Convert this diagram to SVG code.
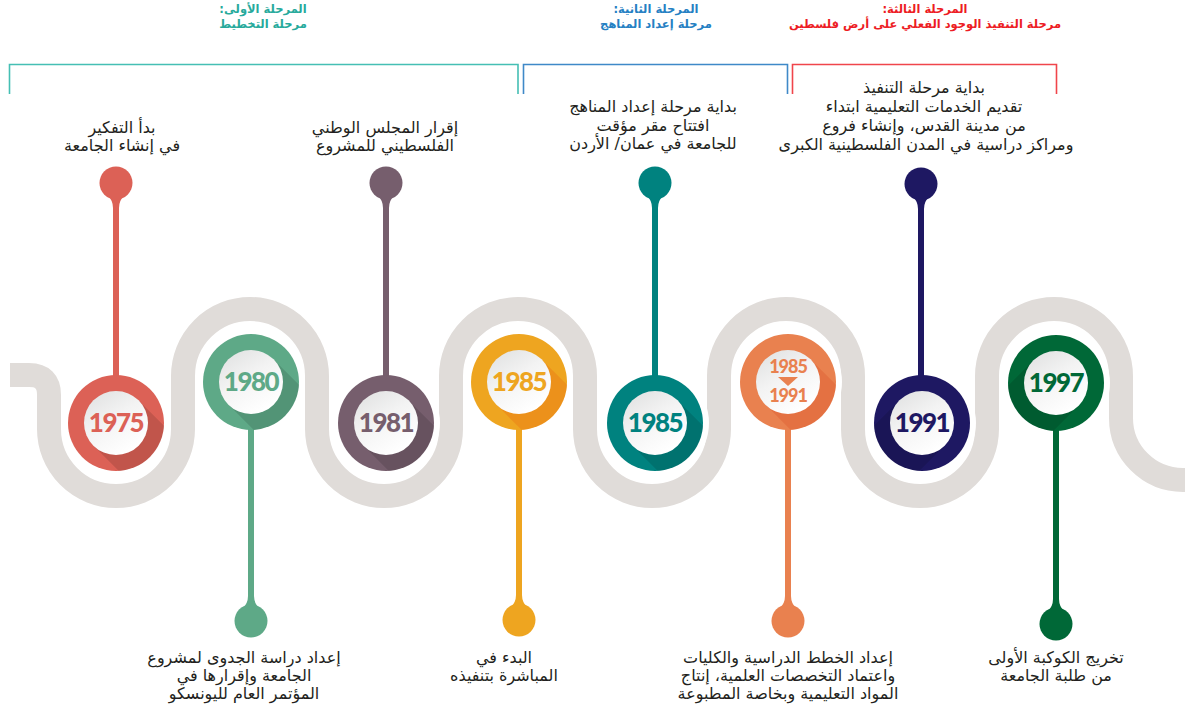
<svg xmlns="http://www.w3.org/2000/svg" width="1185" height="709" viewBox="0 0 1185 709">
<defs>
<style>
.hd{font-family:"DejaVu Sans",sans-serif;font-weight:bold;font-size:11.5px;text-anchor:middle;direction:rtl;unicode-bidi:embed}
.ds{font-family:"DejaVu Sans",sans-serif;font-size:16px;fill:#231f20;text-anchor:middle;direction:rtl;unicode-bidi:embed}
.yr{font-family:Lato,"Open Sans",sans-serif;font-weight:900;font-size:26px;text-anchor:middle;letter-spacing:-1.5px}
.yr2{font-family:Lato,"Open Sans",sans-serif;font-weight:900;font-size:18px;text-anchor:middle;letter-spacing:-1px}
.br{fill:none;stroke-width:1.6}
.band{fill:none;stroke:#e0dcd9;stroke-width:24}
.sh{fill:#000;opacity:0.12}
.halo{fill:#fff}
</style>
<clipPath id="rc"><circle r="48"/></clipPath>
<linearGradient id="wg" x1="0" y1="0" x2="0.6" y2="1">
<stop offset="0" stop-color="#dedfdf"/>
<stop offset="0.5" stop-color="#f3f3f3"/>
<stop offset="1" stop-color="#ffffff"/>
</linearGradient>
</defs>
<rect width="1185" height="709" fill="#fff"/>

<g id="headers">
<text class="hd" x="263" y="13" fill="#27aa9c">المرحلة الأولى:</text>
<text class="hd" x="263" y="28" fill="#27aa9c">مرحلة التخطيط</text>
<text class="hd" x="656" y="13" fill="#2580c3">المرحلة الثانية:</text>
<text class="hd" x="656" y="28" fill="#2580c3">مرحلة إعداد المناهج</text>
<text class="hd" x="925" y="13" fill="#ed1c24">المرحلة الثالثة:</text>
<text class="hd" x="925" y="28" fill="#ed1c24">مرحلة التنفيذ الوجود الفعلي على أرض فلسطين</text>
<path class="br" stroke="#45bfb4" d="M9.5,94 V64.5 H518 V94"/>
<path class="br" stroke="#3f89c8" d="M523.5,94 V64.5 H787.5 V94"/>
<path class="br" stroke="#f0454b" d="M792.5,94 V64.5 H1056.5 V94"/>
</g>

<path id="band" class="band" d="M10,375 H29 Q49,375 49,395 V429 A67,67 0 0 0 183,429 V376 A67,67 0 0 1 317,376 V429 A67,67 0 0 0 451,429 V376 A67,67 0 0 1 585,376 V429 A67,67 0 0 0 719,429 V376 A67,67 0 0 1 853,376 V429 A67,67 0 0 0 987,429 V376 A67,67 0 0 1 1121,376 V418 A62,62 0 0 0 1183,480 H1190"/>

<g id="halos" class="halo">
<circle cx="116" cy="423" r="54"/>
<circle cx="251" cy="382" r="54"/>
<circle cx="386" cy="423" r="54"/>
<circle cx="519" cy="382" r="54"/>
<circle cx="655" cy="423" r="54"/>
<circle cx="788" cy="382" r="54"/>
<circle cx="922" cy="423" r="54"/>
<circle cx="1056" cy="383" r="54"/>
</g>

<g id="connectors">
<g fill="#dc6156"><rect x="113" y="190" width="6" height="186"/><circle cx="116" cy="183" r="16.5"/><path d="M107,195 Q113,200 113,208 H119 Q119,200 125,195 Z"/></g>
<g fill="#765e6d"><rect x="383" y="190" width="6" height="186"/><circle cx="386" cy="183" r="16.5"/><path d="M377,195 Q383,200 383,208 H389 Q389,200 395,195 Z"/></g>
<g fill="#00827f"><rect x="652" y="190" width="6" height="186"/><circle cx="655" cy="183" r="16.5"/><path d="M646,195 Q652,200 652,208 H658 Q658,200 664,195 Z"/></g>
<g fill="#1e1862"><rect x="918" y="190" width="6" height="186"/><circle cx="921" cy="184" r="16.5"/><path d="M912,196 Q918,201 918,209 H924 Q924,201 930,196 Z"/></g>
<g fill="#5ea987"><rect x="248" y="428" width="6" height="186"/><circle cx="251" cy="621" r="16.5"/><path d="M242,609 Q248,604 248,596 H254 Q254,604 260,609 Z"/></g>
<g fill="#eea520"><rect x="516" y="428" width="6" height="186"/><circle cx="519" cy="620" r="16.5"/><path d="M510,608 Q516,603 516,595 H522 Q522,603 528,608 Z"/></g>
<g fill="#e9814f"><rect x="785" y="428" width="6" height="186"/><circle cx="788" cy="621" r="16.5"/><path d="M779,609 Q785,604 785,596 H791 Q791,604 797,609 Z"/></g>
<g fill="#006837"><rect x="1053" y="429" width="6" height="186"/><circle cx="1056" cy="624" r="16.5"/><path d="M1047,612 Q1053,607 1053,599 H1059 Q1059,607 1065,612 Z"/></g>
</g>

<g id="n1975" transform="translate(116,423)">
<circle r="48" fill="#dc6156"/>
<polygon class="sh" points="22.6,-22.6 82.6,37.4 37.4,82.6 -22.6,22.6" clip-path="url(#rc)"/>
<circle r="32" fill="url(#wg)"/>
<text class="yr" y="9" fill="#dc6156">1975</text>
</g>
<g id="n1980" transform="translate(251,382)">
<circle r="48" fill="#5ea987"/>
<polygon class="sh" points="22.6,-22.6 82.6,37.4 37.4,82.6 -22.6,22.6" clip-path="url(#rc)"/>
<circle r="32" fill="url(#wg)"/>
<text class="yr" y="9" fill="#5ea987">1980</text>
</g>
<g id="n1981" transform="translate(386,423)">
<circle r="48" fill="#765e6d"/>
<polygon class="sh" points="22.6,-22.6 82.6,37.4 37.4,82.6 -22.6,22.6" clip-path="url(#rc)"/>
<circle r="32" fill="url(#wg)"/>
<text class="yr" y="9" fill="#765e6d">1981</text>
</g>
<g id="n1985a" transform="translate(519,382)">
<circle r="48" fill="#eea520"/>
<polygon class="sh" points="22.6,-22.6 82.6,37.4 37.4,82.6 -22.6,22.6" clip-path="url(#rc)" style="fill:#e8650f;opacity:0.3"/>
<circle r="32" fill="url(#wg)"/>
<text class="yr" y="9" fill="#eea520">1985</text>
</g>
<g id="n1985b" transform="translate(655,423)">
<circle r="48" fill="#00827f"/>
<polygon class="sh" points="22.6,-22.6 82.6,37.4 37.4,82.6 -22.6,22.6" clip-path="url(#rc)"/>
<circle r="32" fill="url(#wg)"/>
<text class="yr" y="9" fill="#00827f">1985</text>
</g>
<g id="n1985_1991" transform="translate(788,382)">
<circle r="48" fill="#e9814f"/>
<polygon class="sh" points="22.6,-22.6 82.6,37.4 37.4,82.6 -22.6,22.6" clip-path="url(#rc)" style="fill:#d9441a;opacity:0.25"/>
<circle r="32" fill="url(#wg)"/>
<text class="yr2" y="-9" fill="#e9814f">1985</text>
<polygon points="-10,-5 10,-5 0,4" fill="#e9814f"/>
<text class="yr2" y="20" fill="#e9814f">1991</text>
</g>
<g id="n1991" transform="translate(922,423)">
<circle r="48" fill="#1e1862"/>
<polygon class="sh" points="-22.6,-22.6 -82.6,37.4 -37.4,82.6 22.6,22.6" clip-path="url(#rc)"/>
<circle r="32" fill="url(#wg)"/>
<text class="yr" y="9" fill="#1e1862">1991</text>
</g>
<g id="n1997" transform="translate(1056,383)">
<circle r="48" fill="#006837"/>
<polygon class="sh" points="-22.6,-22.6 -82.6,37.4 -37.4,82.6 22.6,22.6" clip-path="url(#rc)"/>
<circle r="32" fill="url(#wg)"/>
<text class="yr" y="9" fill="#006837">1997</text>
</g>

<g id="t1975" class="ds">
<text x="122" y="133">بدأ التفكير</text>
<text x="122" y="151">في إنشاء الجامعة</text>
</g>
<g id="t1981" class="ds">
<text x="385" y="133">إقرار المجلس الوطني</text>
<text x="385" y="151">الفلسطيني للمشروع</text>
</g>
<g id="t1985b" class="ds">
<text x="653" y="112">بداية مرحلة إعداد المناهج</text>
<text x="653" y="131">افتتاح مقر مؤقت</text>
<text x="653" y="149">للجامعة في عمان/ الأردن</text>
</g>
<g id="t1991" class="ds">
<text x="924" y="93">بداية مرحلة التنفيذ</text>
<text x="924" y="112">تقديم الخدمات التعليمية ابتداء</text>
<text x="924" y="131">من مدينة القدس، وإنشاء فروع</text>
<text x="926" y="150">ومراكز دراسية في المدن الفلسطينية الكبرى</text>
</g>
<g id="t1980" class="ds">
<text x="244" y="663">إعداد دراسة الجدوى لمشروع</text>
<text x="244" y="681">الجامعة وإقرارها في</text>
<text x="244" y="699">المؤتمر العام لليونسكو</text>
</g>
<g id="t1985a" class="ds">
<text x="504" y="663">البدء في</text>
<text x="504" y="681">المباشرة بتنفيذه</text>
</g>
<g id="t1985_1991" class="ds">
<text x="788" y="663">إعداد الخطط الدراسية والكليات</text>
<text x="788" y="681">واعتماد التخصصات العلمية، إنتاج</text>
<text x="788" y="699">المواد التعليمية وبخاصة المطبوعة</text>
</g>
<g id="t1997" class="ds">
<text x="1056" y="663">تخريج الكوكبة الأولى</text>
<text x="1056" y="681">من طلبة الجامعة</text>
</g>
</svg>
